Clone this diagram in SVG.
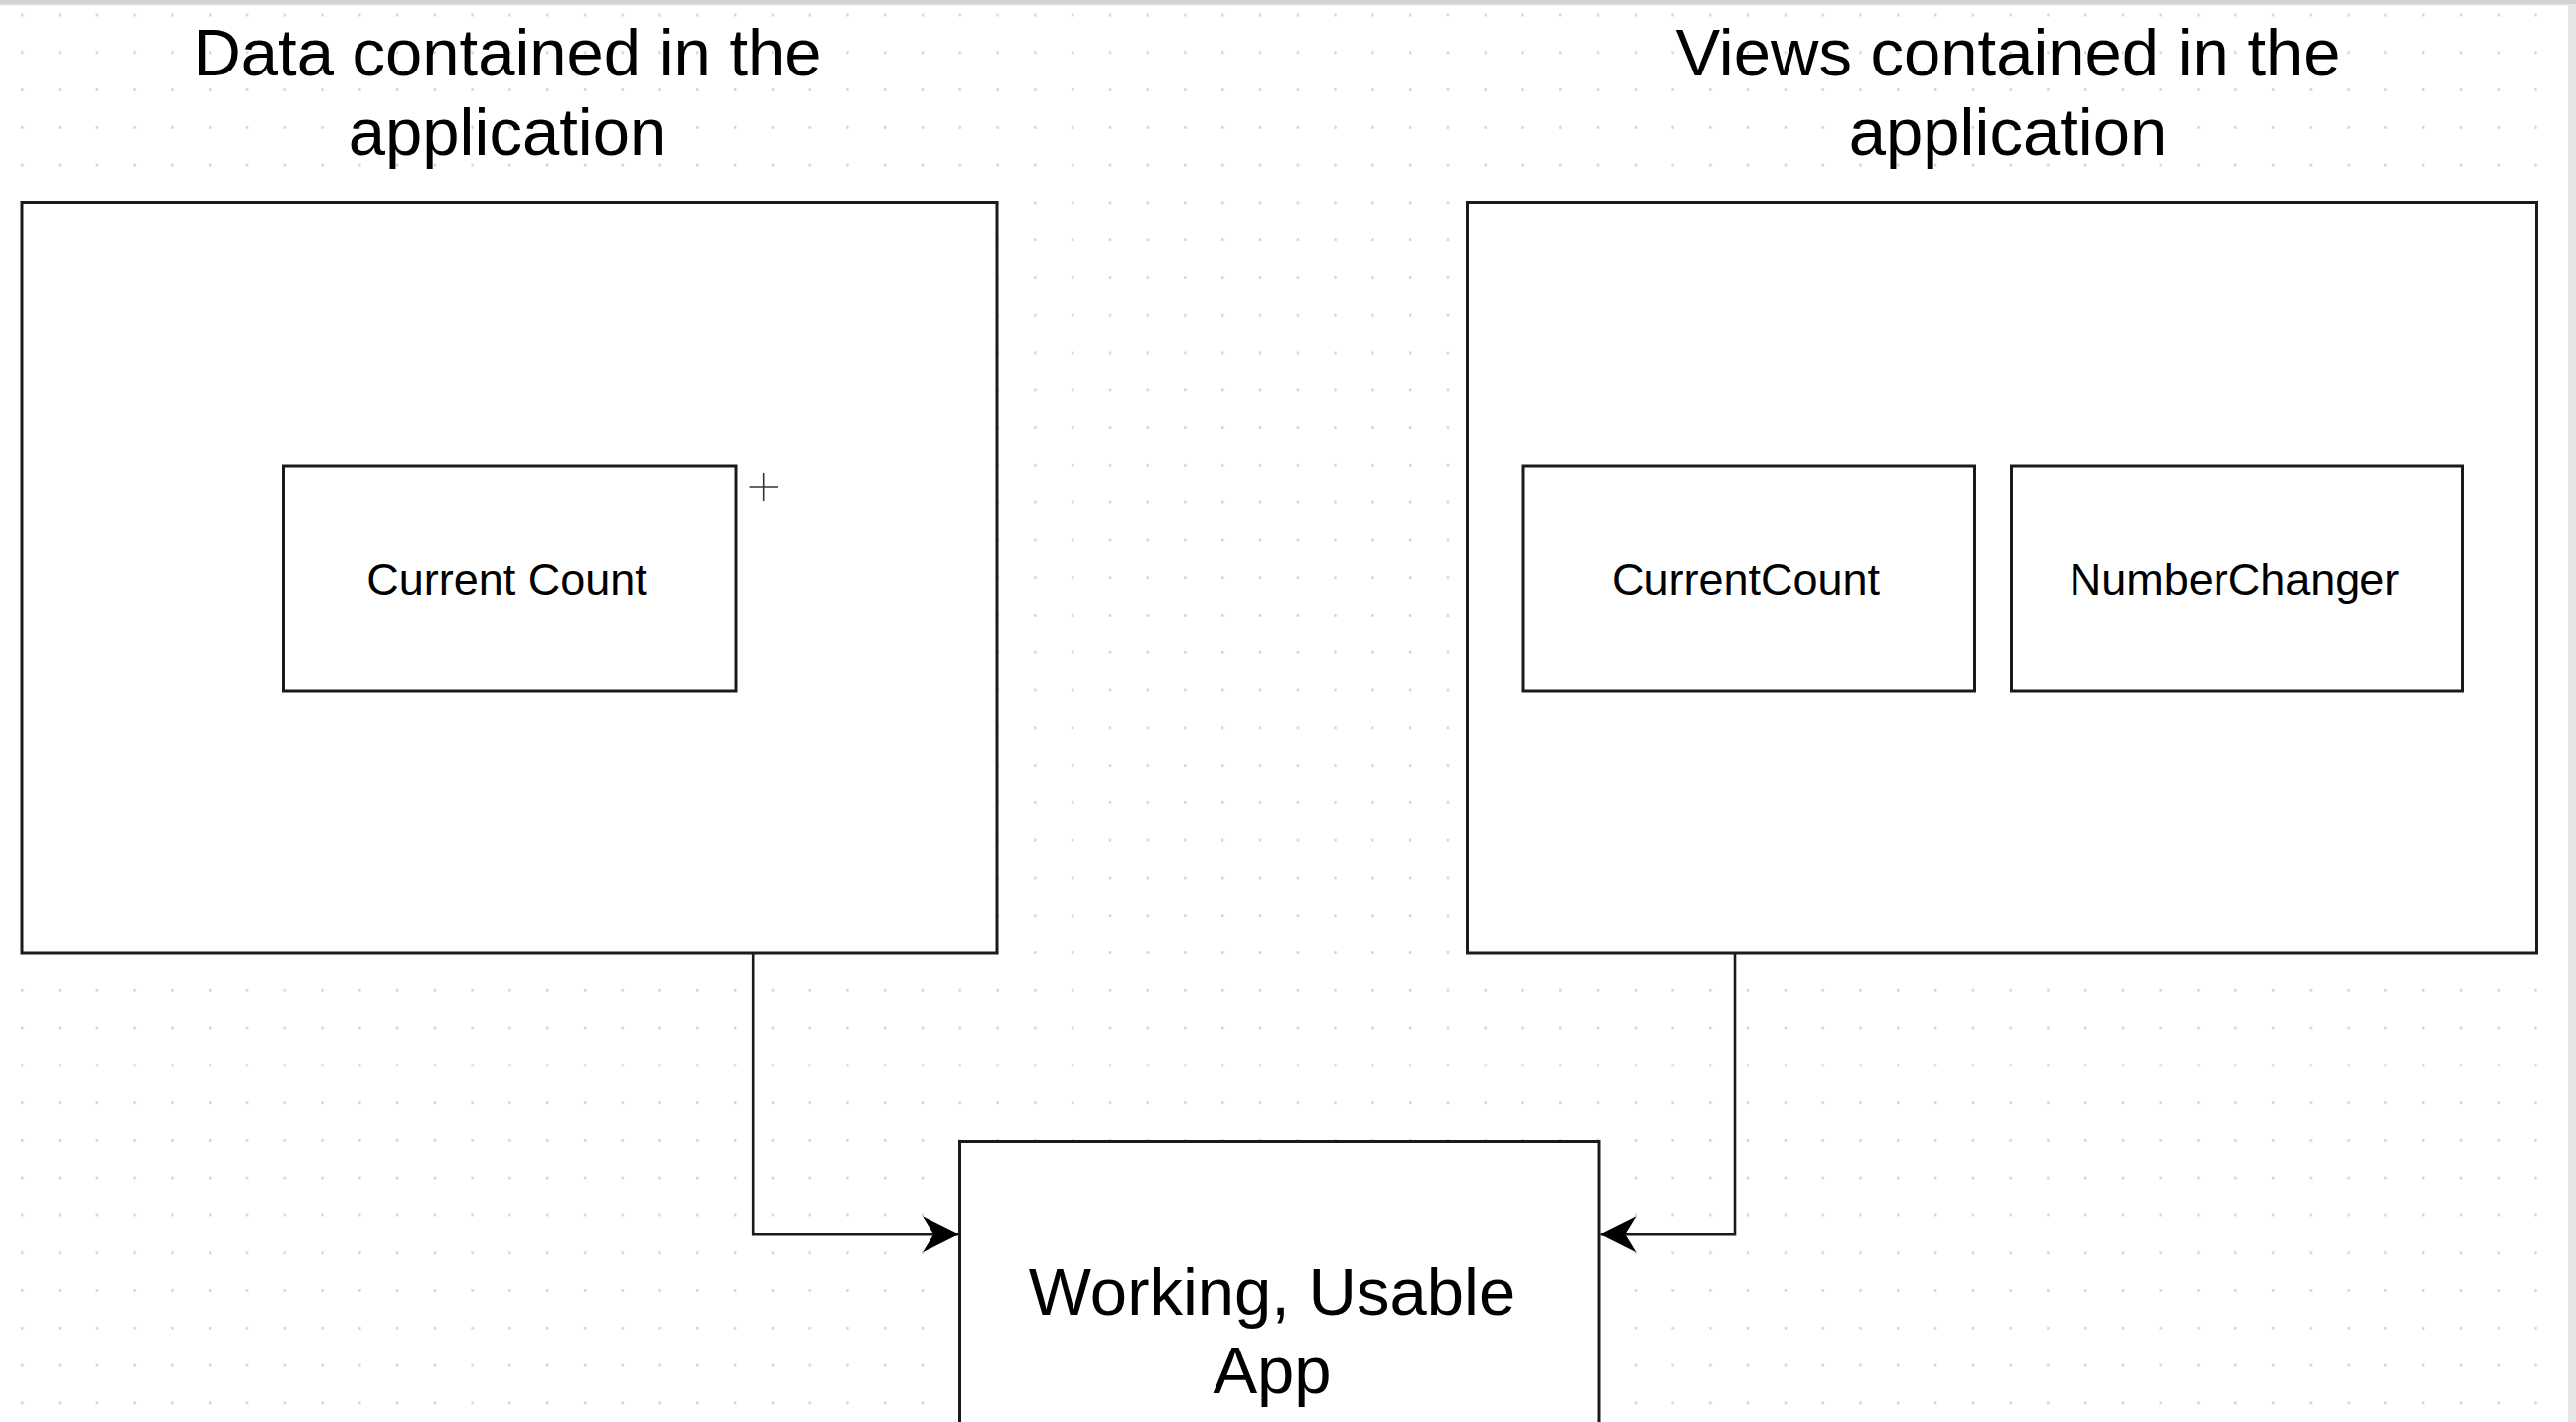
<svg xmlns="http://www.w3.org/2000/svg" width="2594" height="1432" viewBox="0 0 2594 1432">
  <defs>
    <pattern id="grid" patternUnits="userSpaceOnUse" x="21.1" y="13.5" width="37.78" height="37.78">
      <rect x="0" y="0" width="2.4" height="3" fill="#d6d6d6"/>
    </pattern>
    <marker id="arrow" markerUnits="userSpaceOnUse" viewBox="0 0 36 36" refX="36" refY="18" markerWidth="36" markerHeight="36" orient="auto">
      <path d="M36 18 L0 0 L11 18 L0 36 Z" fill="#000"/>
    </marker>
    <style>
      .box { fill: #ffffff; stroke: #1a1a1a; stroke-width: 3; }
      .conn { fill: none; stroke: #1a1a1a; stroke-width: 2.6; }
      .title { font-family: "Liberation Sans", Arial, Helvetica, sans-serif; font-size: 67px; fill: #000; text-anchor: middle; }
      .label { font-family: "Liberation Sans", Arial, Helvetica, sans-serif; font-size: 45px; fill: #000; text-anchor: middle; }
    </style>
  </defs>

  <rect x="0" y="0" width="2594" height="1432" fill="#ffffff"/>
  <rect x="0" y="0" width="2594" height="1432" fill="url(#grid)"/>
  <rect x="2586" y="0" width="8" height="1432" fill="#e6e6e6"/>
  <rect x="0" y="0" width="2594" height="4" fill="#d2d2d2"/>
  <rect x="0" y="4" width="2594" height="1.5" fill="#e4e4e4"/>

  <g id="title-data">
    <text class="title" x="511" y="76">Data contained in the</text>
    <text class="title" x="511" y="156">application</text>
  </g>
  <g id="title-views">
    <text class="title" x="2022" y="76">Views contained in the</text>
    <text class="title" x="2022" y="156">application</text>
  </g>

  <g id="data-container">
    <rect class="box" x="22" y="203.5" width="982" height="756.5"/>
  </g>
  <g id="views-container">
    <rect class="box" x="1477.5" y="203.5" width="1077" height="756.5"/>
  </g>

  <g id="data-current-count">
    <rect class="box" x="285.5" y="469" width="455.5" height="227"/>
    <text class="label" x="510.5" y="599">Current Count</text>
  </g>
  <g id="view-current-count">
    <rect class="box" x="1534" y="469" width="454.5" height="227"/>
    <text class="label" x="1758" y="599">CurrentCount</text>
  </g>
  <g id="view-number-changer">
    <rect class="box" x="2025.5" y="469" width="454" height="227"/>
    <text class="label" x="2250" y="599">NumberChanger</text>
  </g>

  <g id="cursor-plus">
    <path d="M754.5 490 H783 M768.7 476 V505" stroke="#333" stroke-width="1.6" fill="none"/>
  </g>

  <g id="app">
    <rect class="box" x="966.5" y="1149.5" width="643.5" height="300"/>
    <text class="title" x="1281" y="1324">Working, Usable</text>
    <text class="title" x="1281" y="1403">App</text>
  </g>

  <g id="connectors">
    <path class="conn" d="M758.2 960 V1243.3 H965" marker-end="url(#arrow)"/>
    <path class="conn" d="M1747 960 V1243.3 H1611.5" marker-end="url(#arrow)"/>
  </g>
</svg>
